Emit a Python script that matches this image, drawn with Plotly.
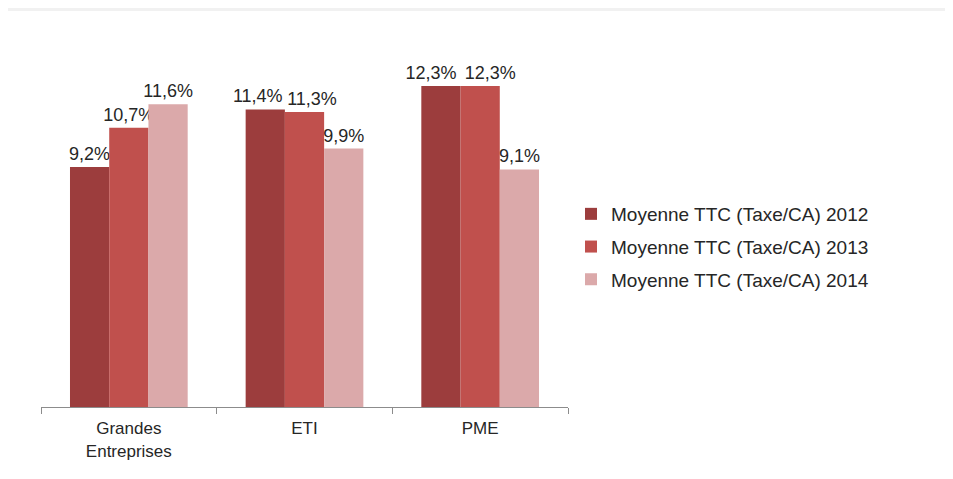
import plotly.graph_objects as go

categories = ["Grandes<br>Entreprises", "ETI", "PME"]
series_names = ["Moyenne TTC (Taxe/CA) 2012", "Moyenne TTC (Taxe/CA) 2013", "Moyenne TTC (Taxe/CA) 2014"]
values_2012 = [9.2, 11.4, 12.3]
values_2013 = [10.7, 11.3, 12.3]
values_2014 = [11.6, 9.9, 9.1]
colors = ["#9C3D3D", "#C0504D", "#DBA9AA"]
# label nudges (in non-breaking spaces; negative = pad right, i.e. shift left)
label_pad = [[0, -3, -4], [0, 3, 4], [0, 0, 0]]

# page body adds an 8px offset; compensate
OFF = 8
W, H = 953 - OFF, 479 - OFF
L, R, T, B = 41 - OFF, 385, 42 - OFF, 72
plot_h = H - T - B
plot_w = W - L - R
NB = "\u00a0"


def fmt(v, p):
    s = f"{v:.1f}%".replace(".", ",")
    return (NB * p + s) if p > 0 else (s + NB * (-p))


fig = go.Figure()
for name, vals, col, pads in zip(series_names, [values_2012, values_2013, values_2014], colors, label_pad):
    fig.add_trace(go.Bar(
        x=categories, y=vals, name=name, legendgroup=name,
        marker=dict(color=col, line=dict(width=0)),
        text=[fmt(v, p) for v, p in zip(vals, pads)],
        textposition="outside", cliponaxis=False, constraintext="none",
        textfont=dict(family="Liberation Sans, Arial, sans-serif", size=18, color="#262626"),
    ))

fig.update_layout(
    width=W, height=H,
    margin=dict(l=L, r=R, t=T, b=B, pad=0),
    paper_bgcolor="white", plot_bgcolor="white",
    barmode="group", bargap=0.33, bargroupgap=0,
    font=dict(family="Liberation Sans, Arial, sans-serif", size=16, color="#262626"),
    showlegend=True,
    legend=dict(
        x=1.0 + 3 / plot_w, xanchor="left", xref="paper",
        y=(plot_h - (247 - 42)) / plot_h, yanchor="middle",
        font=dict(size=19, color="#262626"),
        traceorder="grouped", tracegroupgap=5,
        itemwidth=30, bgcolor="rgba(0,0,0,0)",
    ),
    xaxis=dict(
        showline=True, linecolor="#8c8c8c", linewidth=1,
        ticks="outside", tickson="boundaries", ticklen=6, tickcolor="#8c8c8c",
        ticklabelstandoff=6,
        tickfont=dict(family="Liberation Sans, Arial, sans-serif", size=17, color="#262626"),
        showgrid=False, zeroline=False,
    ),
    yaxis=dict(
        range=[0, plot_h / 26.1], visible=False, showgrid=False, zeroline=False,
    ),
    shapes=[
        dict(type="rect", xref="paper", yref="paper",
             x0=-L / plot_w, x1=(W - L) / plot_w,
             y0=1 + (T - 3) / plot_h, y1=1 + T / plot_h,
             fillcolor="#f1f1f1", line=dict(width=0), layer="above"),
    ],
)

fig.write_html("out.html")
